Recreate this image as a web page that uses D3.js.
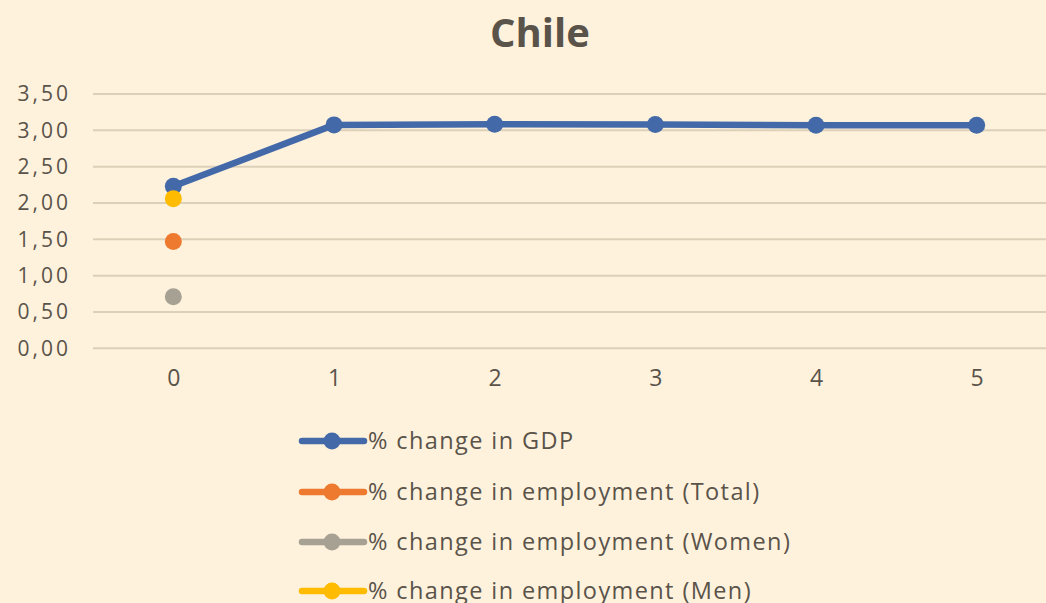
<!DOCTYPE html>
<html><head><meta charset="utf-8">
<script src="https://cdn.jsdelivr.net/npm/d3@7"></script>
<style>
html,body{margin:0;padding:0;background:#FEF2DD;}
svg{display:block;font-family:"Open Sans",sans-serif;}
</style></head>
<body>
<script>
const title = "Chile";
const categories = ["0","1","2","3","4","5"];
const gdp = [2.23, 3.075, 3.085, 3.08, 3.07, 3.07];
const empTotal = [1.47, null, null, null, null, null];
const empWomen = [0.71, null, null, null, null, null];
const empMen = [2.06, null, null, null, null, null];
const yTicks = [0, 0.5, 1, 1.5, 2, 2.5, 3, 3.5];
const seriesNames = ["% change in GDP","% change in employment (Total)","% change in employment (Women)","% change in employment (Men)"];
const seriesColors = ["#4369A8","#EE7A30","#A7A193","#FFBB00"];

const W = 1046, H = 603;
const svg = d3.select("body").append("svg").attr("width", W).attr("height", H);
svg.append("rect").attr("width", W).attr("height", H).attr("fill", "#FEF2DD");

const x = d3.scalePoint().domain(categories).range([93, 1057]).padding(0.5);
const y = d3.scaleLinear().domain([0, 3.5]).range([348.3, 94]);
const textColor = "#5A534A";
const font = "'Open Sans', sans-serif";

svg.append("text").attr("x", 540).attr("y", 47).attr("text-anchor", "middle")
  .attr("font-size", 40).attr("font-weight", "bold").attr("fill", textColor)
  .text(title);

// gridlines
svg.append("g").selectAll("line").data(yTicks).join("line")
  .attr("x1", 93).attr("x2", W).attr("y1", d => y(d)).attr("y2", d => y(d))
  .attr("stroke", "#DDD0B8").attr("stroke-width", 2);

// y axis labels
const fmt = d => d3.format(".2f")(d).replace(".", ",");
const yAxis = d3.axisLeft(y).tickValues(yTicks).tickFormat(fmt).tickSize(0).tickPadding(0);
const gy = svg.append("g").attr("transform", "translate(71,0)").call(yAxis);
gy.select(".domain").remove();
gy.selectAll("text").attr("font-size", 21).attr("fill", textColor).attr("font-family", font).attr("letter-spacing", 3);

// x axis labels
const xAxis = d3.axisBottom(x).tickSize(0).tickPadding(0);
const gx = svg.append("g").attr("transform", "translate(0,370)").call(xAxis);
gx.select(".domain").remove();
gx.selectAll("text").attr("font-size", 23).attr("fill", textColor).attr("font-family", font);

const allSeries = [gdp, empTotal, empWomen, empMen];
const line = d3.line().defined(d => d.v != null).x(d => x(d.c)).y(d => y(d.v));
allSeries.forEach((vals, i) => {
  const pts = vals.map((v, j) => ({c: categories[j], v}));
  svg.append("path").datum(pts).attr("d", line).attr("fill", "none")
    .attr("stroke", seriesColors[i]).attr("stroke-width", 6.5).attr("stroke-linejoin", "round");
  svg.append("g").selectAll("circle").data(pts.filter(d => d.v != null)).join("circle")
    .attr("cx", d => x(d.c)).attr("cy", d => y(d.v)).attr("r", 8.5).attr("fill", seriesColors[i]);
});

// legend
const legY = [441, 492, 542, 591];
seriesNames.forEach((name, i) => {
  const g = svg.append("g").attr("transform", `translate(0,${legY[i]})`);
  g.append("line").attr("x1", 302).attr("x2", 364).attr("y1", 0).attr("y2", 0)
    .attr("stroke", seriesColors[i]).attr("stroke-width", 6.5).attr("stroke-linecap", "round");
  g.append("circle").attr("cx", 332).attr("cy", 0).attr("r", 8.5).attr("fill", seriesColors[i]);
  g.append("text").attr("x", 368).attr("y", 0).attr("dy", "0.36em").attr("font-size", 23.5)
    .attr("letter-spacing", 1.4)
    .attr("fill", textColor).text(name);
});
</script>
</body></html>
